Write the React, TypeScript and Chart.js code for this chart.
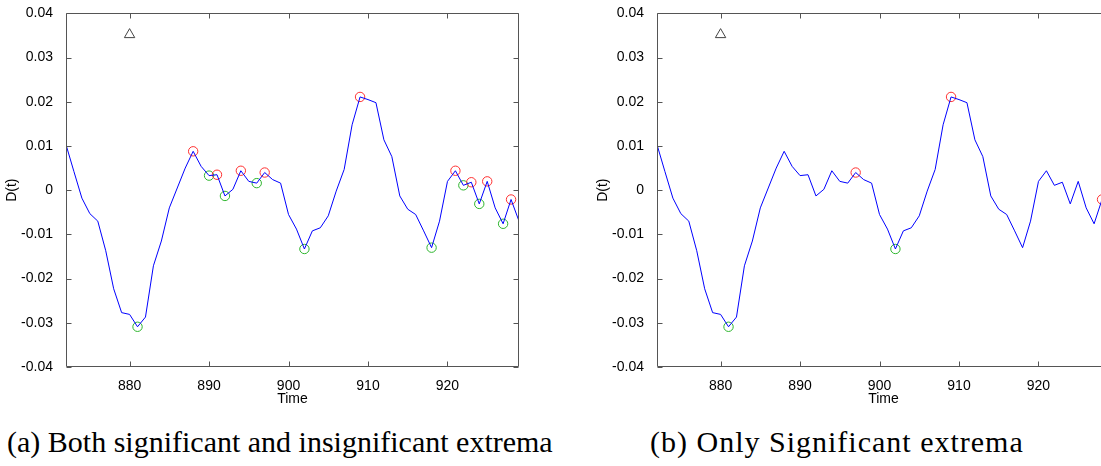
import React, { useEffect, useRef } from "react";
import { Chart, registerables } from "chart.js";

Chart.register(...registerables);

// ---- data ----
const times = [
  872, 873, 874, 875, 876, 877, 878, 879, 880, 881,
  882, 883, 884, 885, 886, 887, 888, 889, 890, 891,
  892, 893, 894, 895, 896, 897, 898, 899, 900, 901,
  902, 903, 904, 905, 906, 907, 908, 909, 910, 911,
  912, 913, 914, 915, 916, 917, 918, 919, 920, 921,
  922, 923, 924, 925, 926, 927, 928, 929,
];
const dValues = [
  0.0103, 0.0042, -0.0018, -0.0053, -0.007, -0.0137, -0.0223, -0.0277, -0.0281, -0.0309,
  -0.0287, -0.0171, -0.0115, -0.004, 0.0005, 0.005, 0.0088, 0.0054, 0.0033, 0.0035,
  -0.0013, 0.0002, 0.0044, 0.002, 0.0016, 0.004, 0.0024, 0.0016, -0.0055, -0.0088,
  -0.0133, -0.0092, -0.0085, -0.0058, -0.0002, 0.0047, 0.0148, 0.0211, 0.0205, 0.0198,
  0.0114, 0.0076, -0.0013, -0.0043, -0.0055, -0.0092, -0.013, -0.007, 0.002, 0.0044,
  0.0011, 0.0018, -0.0031, 0.002, -0.004, -0.0076, -0.0021, -0.007,
];
const allMaxima = [888, 891, 894, 897, 909, 921, 923, 925, 928];
const allMinima = [881, 890, 892, 896, 902, 918, 922, 924, 927];
const sigMaxima = [897, 909, 928];
const sigMinima = [881, 902];
const markerTimes = [880];
const markerValues = [0.0352];
const xTickValues = [880, 890, 900, 910, 920];
const yTickValues = [-0.04, -0.03, -0.02, -0.01, 0, 0.01, 0.02, 0.03, 0.04];
const xRange = [872, 929];
const yRange = [-0.04, 0.04];
const xTitle = "Time";
const yTitle = "D(t)";
const captionA = "(a) Both significant and insignificant extrema";
const captionB = "(b) Only Significant extrema";

const AXIS_COLOR = "#555";
const TICK_FONT = { family: "'Liberation Sans', Arial, sans-serif", size: 14 };

const pointsFor = (ts: number[]) =>
  ts.map((t) => ({ x: t, y: dValues[times.indexOf(t)] }));

const boxTicksPlugin = {
  id: "boxTicks",
  afterDraw(chart: any) {
    const { ctx, chartArea: a, scales } = chart;
    const xs = scales.x;
    const ys = scales.y;
    const L = Math.round(a.left) + 0.5;
    const R = Math.round(a.right) - 0.5;
    const T = Math.round(a.top) + 0.5;
    const B = Math.round(a.bottom) - 0.5;
    const len = 5;
    ctx.save();
    ctx.strokeStyle = AXIS_COLOR;
    ctx.lineWidth = 1;
    ctx.beginPath();
    ctx.rect(L, T, R - L, B - T);
    xTickValues.forEach((v) => {
      const p = Math.round(xs.getPixelForValue(v)) + 0.5;
      ctx.moveTo(p, B);
      ctx.lineTo(p, B - len);
      ctx.moveTo(p, T);
      ctx.lineTo(p, T + len);
    });
    yTickValues.forEach((v) => {
      const p = Math.round(ys.getPixelForValue(v)) + 0.5;
      ctx.moveTo(L, p);
      ctx.lineTo(L + len, p);
      ctx.moveTo(R, p);
      ctx.lineTo(R - len, p);
    });
    ctx.stroke();
    ctx.restore();
  },
};

function ExtremaChart({ maxima, minima }: { maxima: number[]; minima: number[] }) {
  const ref = useRef<HTMLCanvasElement | null>(null);
  useEffect(() => {
    if (!ref.current) return;
    const chart = new Chart(ref.current, {
      type: "scatter",
      data: {
        datasets: [
          {
            label: "D(t)",
            data: times.map((t, i) => ({ x: t, y: dValues[i] })),
            showLine: true,
            borderColor: "#0000ff",
            borderWidth: 1,
            pointRadius: 0,
            tension: 0,
          } as any,
          {
            label: "maxima",
            data: pointsFor(maxima),
            pointStyle: "circle",
            pointRadius: 4.7,
            borderColor: "#ff3030",
            backgroundColor: "rgba(0,0,0,0)",
            borderWidth: 1,
          },
          {
            label: "minima",
            data: pointsFor(minima),
            pointStyle: "circle",
            pointRadius: 4.7,
            borderColor: "#2db52d",
            backgroundColor: "rgba(0,0,0,0)",
            borderWidth: 1,
          },
          {
            label: "marker",
            data: markerTimes.map((t, i) => ({ x: t, y: markerValues[i] })),
            pointStyle: "triangle",
            pointRadius: 6,
            borderColor: "#444",
            backgroundColor: "rgba(0,0,0,0)",
            borderWidth: 1,
          },
        ],
      },
      options: {
        animation: false,
        responsive: false,
        events: [],
        layout: { padding: { left: 0, top: 11, right: 21, bottom: 0 } },
        plugins: { legend: { display: false }, tooltip: { enabled: false } },
        scales: {
          x: {
            type: "linear",
            min: xRange[0],
            max: xRange[1],
            grid: { display: false },
            border: { display: false },
            afterBuildTicks: (s: any) => {
              s.ticks = xTickValues.map((v) => ({ value: v }));
            },
            afterFit: (s: any) => {
              s.height = 53;
            },
            ticks: {
              color: "#000",
              font: TICK_FONT,
              padding: 3,
              maxRotation: 0,
              autoSkip: false,
              callback: (v: any) => String(v),
            },
            title: {
              display: true,
              text: xTitle,
              color: "#000",
              font: TICK_FONT,
              padding: { top: 0, bottom: 12 },
            },
          },
          y: {
            type: "linear",
            min: yRange[0],
            max: yRange[1],
            grid: { display: false },
            border: { display: false },
            afterBuildTicks: (s: any) => {
              s.ticks = yTickValues.map((v) => ({ value: v }));
            },
            afterFit: (s: any) => {
              s.width = 66;
            },
            ticks: {
              color: "#000",
              font: TICK_FONT,
              padding: 5,
              autoSkip: false,
              callback: (v: any) => (Math.abs(v) < 1e-9 ? "0" : Number(v).toFixed(2)),
            },
            title: {
              display: true,
              text: yTitle,
              color: "#000",
              font: TICK_FONT,
              padding: { top: 4, bottom: 0 },
            },
          },
        },
      },
      plugins: [boxTicksPlugin],
    });
    return () => chart.destroy();
  }, [maxima, minima]);
  return <canvas ref={ref} width={540} height={420} style={{ display: "block" }} />;
}

const captionStyle: React.CSSProperties = {
  position: "absolute",
  top: 424,
  fontFamily: "'Liberation Serif', 'Times New Roman', serif",
  fontSize: 30,
  whiteSpace: "nowrap",
  color: "#000",
  lineHeight: "36px",
};

export default function App() {
  return (
    <div
      style={{
        position: "fixed",
        left: 0,
        top: 0,
        width: 1101,
        height: 466,
        overflow: "hidden",
        background: "#fff",
      }}
    >
      <div style={{ position: "absolute", left: 0, top: 0 }}>
        <ExtremaChart maxima={allMaxima} minima={allMinima} />
      </div>
      <div style={{ position: "absolute", left: 591, top: 0 }}>
        <ExtremaChart maxima={sigMaxima} minima={sigMinima} />
      </div>
      <div style={{ ...captionStyle, left: 7 }}>{captionA}</div>
      <div style={{ ...captionStyle, left: 650, letterSpacing: 1 }}>{captionB}</div>
    </div>
  );
}
